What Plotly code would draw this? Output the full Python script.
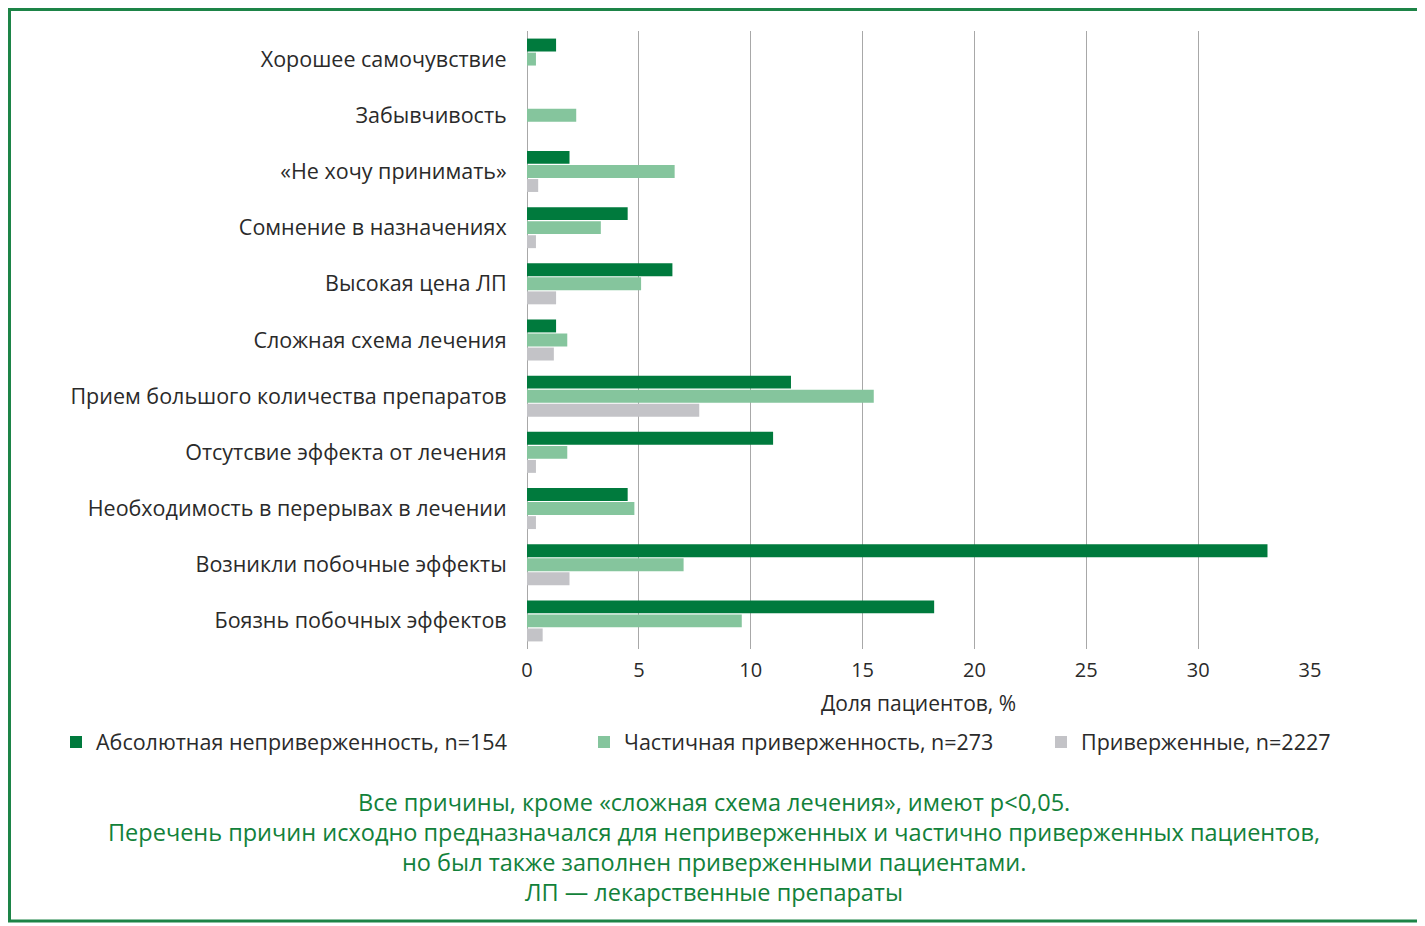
import plotly.graph_objects as go

# categories, top to bottom
reasons = [
    "Хорошее самочувствие",
    "Забывчивость",
    "«Не хочу принимать»",
    "Сомнение в назначениях",
    "Высокая цена ЛП",
    "Сложная схема лечения",
    "Прием большого количества препаратов",
    "Отсутсвие эффекта от лечения",
    "Необходимость в перерывах в лечении",
    "Возникли побочные эффекты",
    "Боязнь побочных эффектов",
]

# доля пациентов, %
absolute_nonadh = [1.3, None, 1.9, 4.5, 6.5, 1.3, 11.8, 11.0, 4.5, 33.1, 18.2]
partial_adh = [0.4, 2.2, 6.6, 3.3, 5.1, 1.8, 15.5, 1.8, 4.8, 7.0, 9.6]
adherent = [None, None, 0.5, 0.4, 1.3, 1.2, 7.7, 0.4, 0.4, 1.9, 0.7]

series_names = [
    "Абсолютная неприверженность, n=154",
    "Частичная приверженность, n=273",
    "Приверженные, n=2227",
]

x_ticks = [0, 5, 10, 15, 20, 25, 30, 35]

notes = [
    "Все причины, кроме «сложная схема лечения», имеют p<0,05.",
    "Перечень причин исходно предназначался для неприверженных и частично приверженных пациентов,",
    "но был также заполнен приверженными пациентами.",
    "ЛП — лекарственные препараты",
]

# page body has an 8px margin, so the figure is a bit smaller than the window
OFF = 8
W, H = 1425 - OFF, 926 - OFF
ML, MR, MT, MB = 527 - OFF, 115, 31 - OFF, 277
PW, PH = W - ML - MR, H - MT - MB


def px_x(x):
    # page pixel -> paper coordinate
    return (x - OFF - ML) / PW


def px_y(y):
    return (H - MB - (y - OFF)) / PH


colors = ["#007a3d", "#85c59d", "#c3c3c7"]
font_family = "Open Sans, Noto Sans, sans-serif"
text_color = "#2a2a2a"

fig = go.Figure()
legend_x = [70, 598, 1055]  # left edge of the legend squares
for i, (name, vals) in enumerate(zip(series_names, [absolute_nonadh, partial_adh, adherent])):
    lg = "legend" if i == 0 else f"legend{i + 1}"
    fig.add_trace(go.Bar(
        y=reasons, x=vals, name=name, orientation="h",
        marker=dict(color=colors[i], line=dict(width=0)),
        legend=lg, showlegend=True,
    ))

legend_style = dict(
    orientation="h", xref="container", yref="container",
    yanchor="middle", y=1 - (742 - OFF) / H,
    font=dict(family=font_family, size=21.5, color=text_color),
    bgcolor="rgba(0,0,0,0)", itemwidth=30,
)

fig.update_layout(
    width=W, height=H,
    margin=dict(l=ML, r=MR, t=MT, b=MB, autoexpand=False),
    paper_bgcolor="white", plot_bgcolor="white",
    barmode="group", bargap=0.25, bargroupgap=0.08,
    showlegend=True,
    font=dict(family=font_family, color=text_color),
    legend=dict(legend_style, x=(legend_x[0] - 14 - OFF) / W),
    legend2=dict(legend_style, x=(legend_x[1] - 14 - OFF) / W),
    legend3=dict(legend_style, x=(legend_x[2] - 14 - OFF) / W),
    xaxis=dict(
        range=[0, 35], tickvals=x_ticks,
        showgrid=True, gridcolor="#a8a8a8", gridwidth=1,
        zeroline=True, zerolinecolor="#a8a8a8", zerolinewidth=1,
        showline=False, ticks="outside", ticklen=3, tickcolor="rgba(0,0,0,0)",
        tickfont=dict(size=20, color=text_color),
        title=dict(text="Доля пациентов, %", font=dict(size=21, color=text_color), standoff=14),
    ),
    yaxis=dict(
        autorange="reversed", showgrid=False, ticks="outside", ticklen=15,
        tickcolor="rgba(0,0,0,0)",
        tickfont=dict(size=21.5, color=text_color),
    ),
)

# bottom notes
note_y = [802, 832, 862, 892]
for txt, yy in zip(notes, note_y):
    fig.add_annotation(
        text=txt, xref="paper", yref="paper",
        x=px_x(714), y=px_y(yy), xanchor="center", yanchor="middle",
        showarrow=False, font=dict(family=font_family, size=23.5, color="#12813a"),
    )

# green frame
fig.add_shape(
    type="rect", xref="paper", yref="paper",
    x0=px_x(OFF + 1.5), x1=px_x(1421), y0=px_y(921), y1=px_y(OFF + 1.5),
    line=dict(color="#1d8447", width=3), layer="below",
)

fig.write_html("out.html")
